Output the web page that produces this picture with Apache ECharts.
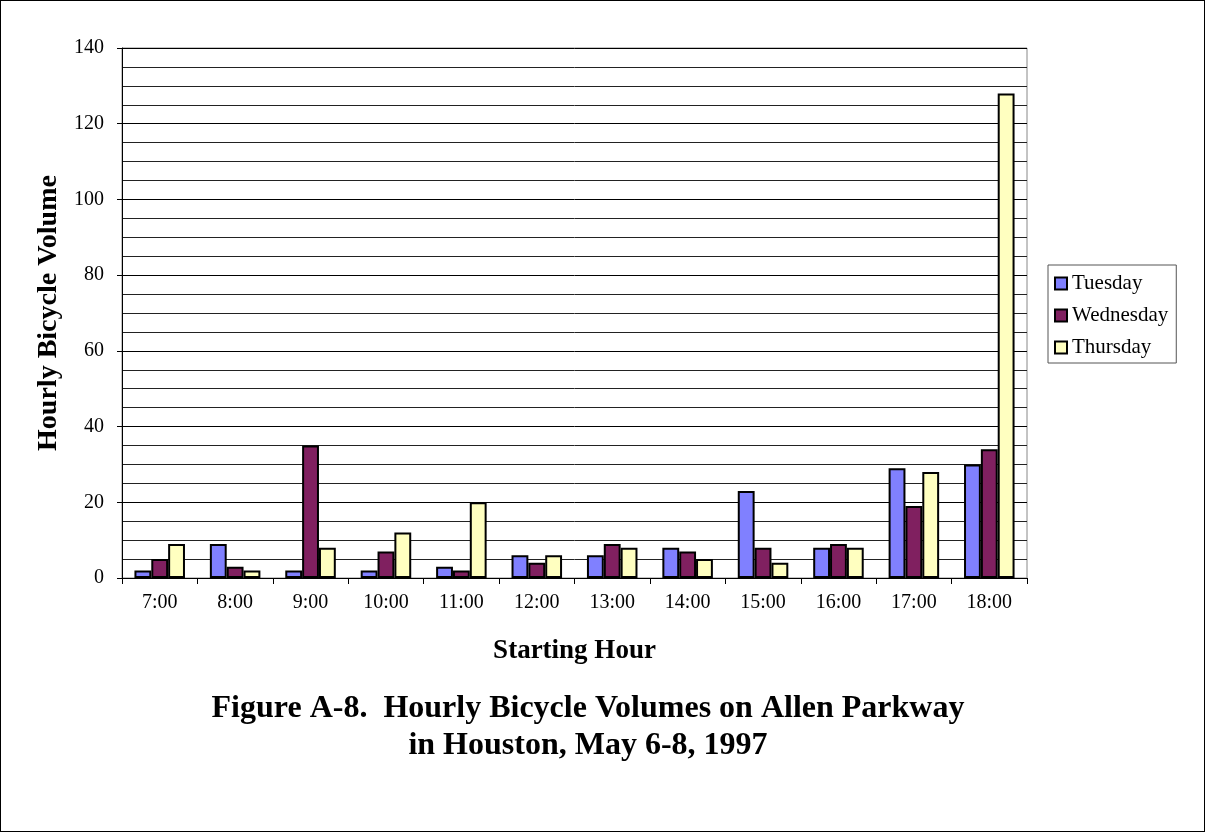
<!DOCTYPE html>
<html>
<head>
<meta charset="utf-8">
<style>
  html, body { margin: 0; padding: 0; background: #fff; }
  #frame { position: absolute; left: 0; top: 0; width: 1203px; height: 830px; border: 1px solid #000; }
  #main { width: 1205px; height: 832px; }
</style>
<script src="https://cdn.jsdelivr.net/npm/echarts@6/dist/echarts.min.js"></script>
</head>
<body>
<div id="main"></div>
<div id="frame"></div>
<script>
  var hours = ['7:00', '8:00', '9:00', '10:00', '11:00', '12:00', '13:00', '14:00', '15:00', '16:00', '17:00', '18:00'];
  var tuesday = [2, 9, 2, 2, 3, 6, 6, 8, 23, 8, 29, 30];
  var wednesday = [5, 3, 35, 7, 2, 4, 9, 7, 8, 9, 19, 34];
  var thursday = [9, 2, 8, 12, 20, 6, 8, 5, 4, 8, 28, 128];

  var serif = '"Liberation Serif", "DejaVu Serif", serif';
  var chart = echarts.init(document.getElementById('main'));

  function bar(name, data, color) {
    return {
      name: name,
      type: 'bar',
      data: data,
      barGap: 0,
      barCategoryGap: '33%',
      itemStyle: { color: color, borderColor: '#000', borderWidth: 2 }
    };
  }

  chart.setOption({
    animation: false,
    textStyle: { fontFamily: serif },
    title: {
      text: 'Figure A-8.  Hourly Bicycle Volumes on Allen Parkway\nin Houston, May 6-8, 1997',
      left: 583,
      top: 685,
      textAlign: 'center',
      textStyle: { fontFamily: serif, fontSize: 32, fontWeight: 'bold', color: '#000', lineHeight: 37 }
    },
    legend: {
      orient: 'vertical',
      left: 1048,
      top: 265,
      padding: [8, 8, 5, 6],
      itemGap: 11,
      itemWidth: 12,
      itemHeight: 12,
      icon: 'rect',
      borderColor: '#555',
      borderWidth: 1,
      textStyle: { fontFamily: serif, fontSize: 21, color: '#000' },
      data: ['Tuesday', 'Wednesday', 'Thursday']
    },
    grid: { left: 122, right: 178, top: 48, bottom: 254, containLabel: false, show: true, borderColor: '#888', borderWidth: 1 },
    xAxis: {
      type: 'category',
      data: hours,
      name: 'Starting Hour',
      nameLocation: 'middle',
      nameGap: 60,
      nameTextStyle: { fontFamily: serif, fontSize: 27, fontWeight: 'bold', color: '#000' },
      axisLine: { lineStyle: { color: '#000', width: 1 } },
      axisTick: { show: true, length: 6, lineStyle: { color: '#000' } },
      axisLabel: { fontFamily: serif, fontSize: 20, color: '#000', margin: 15 }
    },
    yAxis: {
      type: 'value',
      min: 0,
      max: 140,
      interval: 20,
      name: 'Hourly Bicycle Volume',
      nameLocation: 'middle',
      nameGap: 59,
      nameTextStyle: { fontFamily: serif, fontSize: 28, fontWeight: 'bold', color: '#000' },
      axisLine: { show: true, lineStyle: { color: '#000', width: 1 } },
      axisTick: { show: true, length: 5, lineStyle: { color: '#000' } },
      axisLabel: { fontFamily: serif, fontSize: 20, color: '#000', margin: 18 },
      splitLine: { show: true, lineStyle: { color: '#000', width: 1 } },
      minorTick: { show: false, splitNumber: 4 },
      minorSplitLine: { show: true, lineStyle: { color: '#222', width: 1 } }
    },
    series: [
      bar('Tuesday', tuesday, '#8080FF'),
      bar('Wednesday', wednesday, '#802060'),
      bar('Thursday', thursday, '#FFFFC0')
    ]
  });
</script>
</body>
</html>
